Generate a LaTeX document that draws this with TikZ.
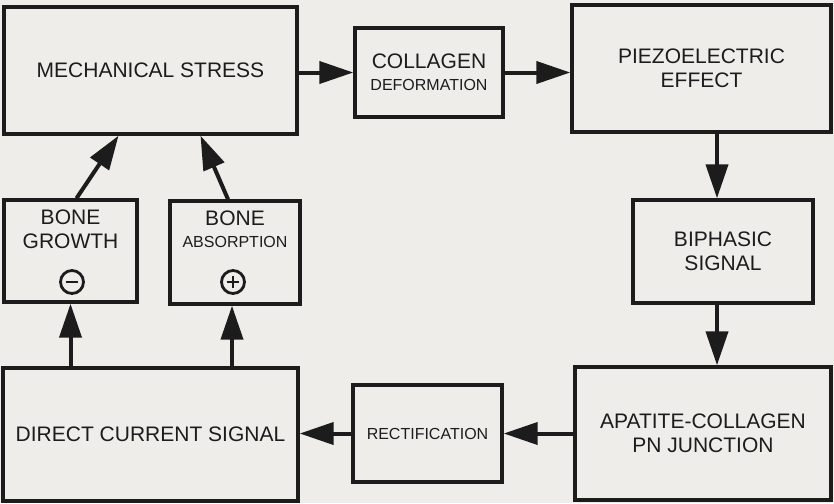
\documentclass[tikz,border=0pt]{standalone}
\usepackage{fontspec}
\setmainfont{Liberation Sans}
\usetikzlibrary{arrows.meta}
\definecolor{paper}{RGB}{238,237,234}
\definecolor{ink}{RGB}{28,28,28}
\begin{document}
\begin{tikzpicture}[x=0.5pt,y=-0.5pt,
        txt/.style={align=center,text=ink,font=\fontsize{10.5}{12}\selectfont},
        box/.style={txt,draw=ink,line width=1.7pt,inner sep=0pt},
        arr/.style={draw=ink,line width=2pt,-{Triangle[length=17pt,width=11pt]}},
        sign/.style={circle,draw=ink,line width=1.4pt,minimum size=11.5pt,inner sep=0pt},
        bar/.style={draw=ink,line width=1.4pt}]
    \fill [paper] (0,0) rectangle (834,503);
    \useasboundingbox (0,0) rectangle (834,503);
    % top row
    \node [box,minimum width=146.5pt,minimum height=63.5pt] (mech) at (150.5,70.5) {MECHANICAL STRESS};
    \node [box,minimum width=74pt,minimum height=44.5pt] (coll) at (429,72.5) {COLLAGEN\\[-1pt]{\fontsize{8}{9}\selectfont DEFORMATION}};
    \node [box,minimum width=129.5pt,minimum height=63.5pt] (piezo) at (701.5,68.5) {PIEZOELECTRIC\\EFFECT};
    % middle row
    \node [box,minimum width=66.5pt,minimum height=51pt] (growth) at (70.5,251) {};
    \node [txt] (growthtext) at (70.5,229.5) {BONE\\GROWTH};
    \node [sign] (minus) at (72,282) {};
    \node [box,minimum width=65pt,minimum height=51.5pt] (absorp) at (235,252.5) {};
    \node [txt] (absorptext) at (235,229.5) {BONE\\[-1pt]{\fontsize{8}{9}\selectfont ABSORPTION}};
    \node [sign] (plus) at (233,282) {};
    \node [box,minimum width=90pt,minimum height=51.5pt] (biph) at (723,251.5) {BIPHASIC\\SIGNAL};
    % bottom row
    \node [box,minimum width=147.5pt,minimum height=66.5pt] (dc) at (150.5,434.5) {DIRECT CURRENT SIGNAL};
    \node [box,minimum width=74.5pt,minimum height=48.5pt,font=\fontsize{8}{9}\selectfont] (rect) at (427.5,433.5) {RECTIFICATION};
    \node [box,minimum width=128pt,minimum height=66.5pt] (apat) at (703,433.5) {APATITE-COLLAGEN\\PN JUNCTION};
    % signs
    \draw [bar] ([xshift=-3.2pt]minus.center) -- ([xshift=3.2pt]minus.center);
    \draw [bar] ([xshift=-3.2pt]plus.center) -- ([xshift=3.2pt]plus.center);
    \draw [bar] ([yshift=-3.2pt]plus.center) -- ([yshift=3.2pt]plus.center);
    % arrows
    \draw [arr] (mech.east |- coll.west) -- (coll.west);
    \draw [arr] (coll.east) -- (coll.east -| piezo.west);
    \draw [arr] ([xshift=-3pt]piezo.south -| biph.north) -- ([xshift=-3pt]biph.north);
    \draw [arr] ([xshift=-3pt]biph.south) -- ([xshift=-3pt]biph.south |- apat.north);
    \draw [arr] (apat.west |- rect.east) -- (rect.east);
    \draw [arr] (rect.west) -- (rect.west -| dc.east);
    \draw [arr] (dc.north -| growth.south) -- (growth.south);
    \draw [arr] ([xshift=-1.5pt]dc.north -| absorp.south) -- ([xshift=-1.5pt]absorp.south);
    \draw [arr] ([xshift=3pt]growth.north) -- ([xshift=-16pt]mech.south);
    \draw [arr] ([xshift=-3.5pt]absorp.north) -- ([xshift=25pt]mech.south);
\end{tikzpicture}
\end{document}
